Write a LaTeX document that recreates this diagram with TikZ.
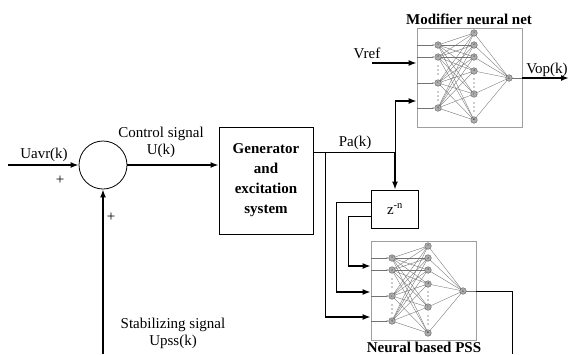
\documentclass[tikz,border=0pt]{standalone}
\usepackage{fontspec}
\setmainfont{Liberation Serif}
\usetikzlibrary{arrows.meta,positioning}

\tikzset{
  netbox/.style={draw=gray!75,fill=white,line width=0.7pt,inner sep=0pt,
    minimum width=105pt,minimum height=99pt},
  nnode/.style={circle,draw=gray!50!black,fill=gray!65,inner sep=0pt,
    minimum size=6.6pt,line width=0.3pt,font=\fontsize{3}{3}\selectfont},
  nlink/.style={draw=gray!90!black,line width=0.35pt},
  nnet/.pic={
    \node[netbox] (-box) at (52.5,49.5) {};
    % layer positions
    \foreach \y [count=\i] in {17,29,55,80}
      \coordinate (-i\i) at (21,\y);
    \foreach \y [count=\j] in {5,17,29,43,66,92}
      \coordinate (-h\j) at (57,\y);
    \coordinate (-o) at (92,50);
    % links
    \foreach \i in {1,...,4}
      \foreach \j in {1,...,6}
        \draw[nlink] (-i\i) -- (-h\j);
    \foreach \j in {1,...,6}
      \draw[nlink] (-h\j) -- (-o);
    % neurons
    \foreach \t [count=\i] in {1,2,i,q} {
      \node[nnode] (-in\i) at (-i\i) {\t};
      \draw[nlink,-{Latex[length=2pt,width=1.6pt]}] (-box.west |- -i\i) -- (-in\i);
    }
    \foreach \t [count=\j] in {1,2,3,4,j,m}
      \node[nnode] (-hid\j) at (-h\j) {\t};
    \node[nnode] (-out) at (-o) {k};
    \draw[nlink] (-out) -- (-out -| -box.east);
    % dots
    \foreach \x/\y in {21/42,21/68,57/55,57/79}
      \foreach \d in {-4,0,4}
        \fill[gray!30!black] (\x,\y+\d) circle (0.55pt);
  }
}

\begin{document}
\begin{tikzpicture}[x=1pt,y=-1pt,
    font=\fontsize{15}{18}\selectfont,
    wire/.style={line width=0.8pt},
    sig/.style={line width=1.6pt,-{Latex[length=8pt,width=6pt]}},
    block/.style={draw,line width=0.8pt,inner sep=0pt},
    title/.style={font=\fontsize{15}{18}\selectfont\bfseries}]
\useasboundingbox (0,0) rectangle (569,354);

% Summing point & blocks
\node[  block,circle,
        minimum size=48pt
    ] (sum) at (103,165) {};
\node[  block,
        minimum width=94pt, minimum height=107pt,
        align=center,
        font=\fontsize{15}{20}\selectfont\bfseries
    ] (gen) at (266,180.5) {Generator\\and\\excitation\\system};
\node[  block,
        minimum width=47pt, minimum height=38pt
    ] (delay) at (395,209) {z\textsuperscript{-n}};
\pic (mod) at (417,28) {nnet};
\pic (pss) at (371,241) {nnet};

% Free ends & corners
\coordinate (uin)  at (8,165);
\coordinate (ubot) at (103,354);
\coordinate (b1)   at (325,152);
\coordinate (b2)   at (395,152);
\coordinate (vpa)  at (395,101);
\coordinate (vref) at (372,63);
\coordinate (vop)  at (569,78);
\coordinate (k1)   at (336,292);
\coordinate (k2)   at (348,266);
\coordinate (k3)   at (325,317);
\coordinate (s1)   at (512,291);
\coordinate (s2)   at (512,354);

% Arcs
\draw[sig] (uin) -- (sum);
\draw[sig] (ubot) -- (sum);
\draw[sig] (sum) -- (sum -| gen.west);
\draw[wire] (gen.east |- b1) -- (b2);
\draw[wire] (b2) -- (vpa);
\draw[sig] (vpa) -- (vpa -| mod-box.west);
\draw[sig] (vref) -- (vref -| mod-box.west);
\draw[sig] (mod-box.east |- mod-out) -- (vop);
\draw[sig] (b2) -- (delay.north);
\draw[wire] ([yshift=7pt]delay.west) -| (k1);
\draw[sig] (k1) -- (k1 -| pss-box.west);
\draw[wire] ([yshift=-7pt]delay.west) -| (k2);
\draw[sig] (k2) -- (k2 -| pss-box.west);
\draw[wire] (b1) -- (k3);
\draw[sig] (k3) -- (k3 -| pss-box.west);
\draw[wire] (pss-box.east |- pss-out) -- (s1) -- (s2);

% Labels
\node (uavr) at (44,155) {Uavr(k)};
\node (plus1) at (60,180) {+};
\node (plus2) at (111,217) {+};
\node (ctrl) at (161,134) {Control signal};
\node (uk) [below=-4pt of ctrl] {U(k)};
\node (pak) at (355,143) {Pa(k)};
\node (vreflbl) at (367,53) {Vref};
\node (voplbl) at (547,70) {Vop(k)};
\node[title] (modlbl) at (469,19) {Modifier neural net};
\node[title,inner sep=0pt] (psslbl) at (424,347) {Neural based PSS};
\node (stab) at (173,325) {Stabilizing signal};
\node (upss) [below=-4pt of stab] {Upss(k)};

\end{tikzpicture}
\end{document}
